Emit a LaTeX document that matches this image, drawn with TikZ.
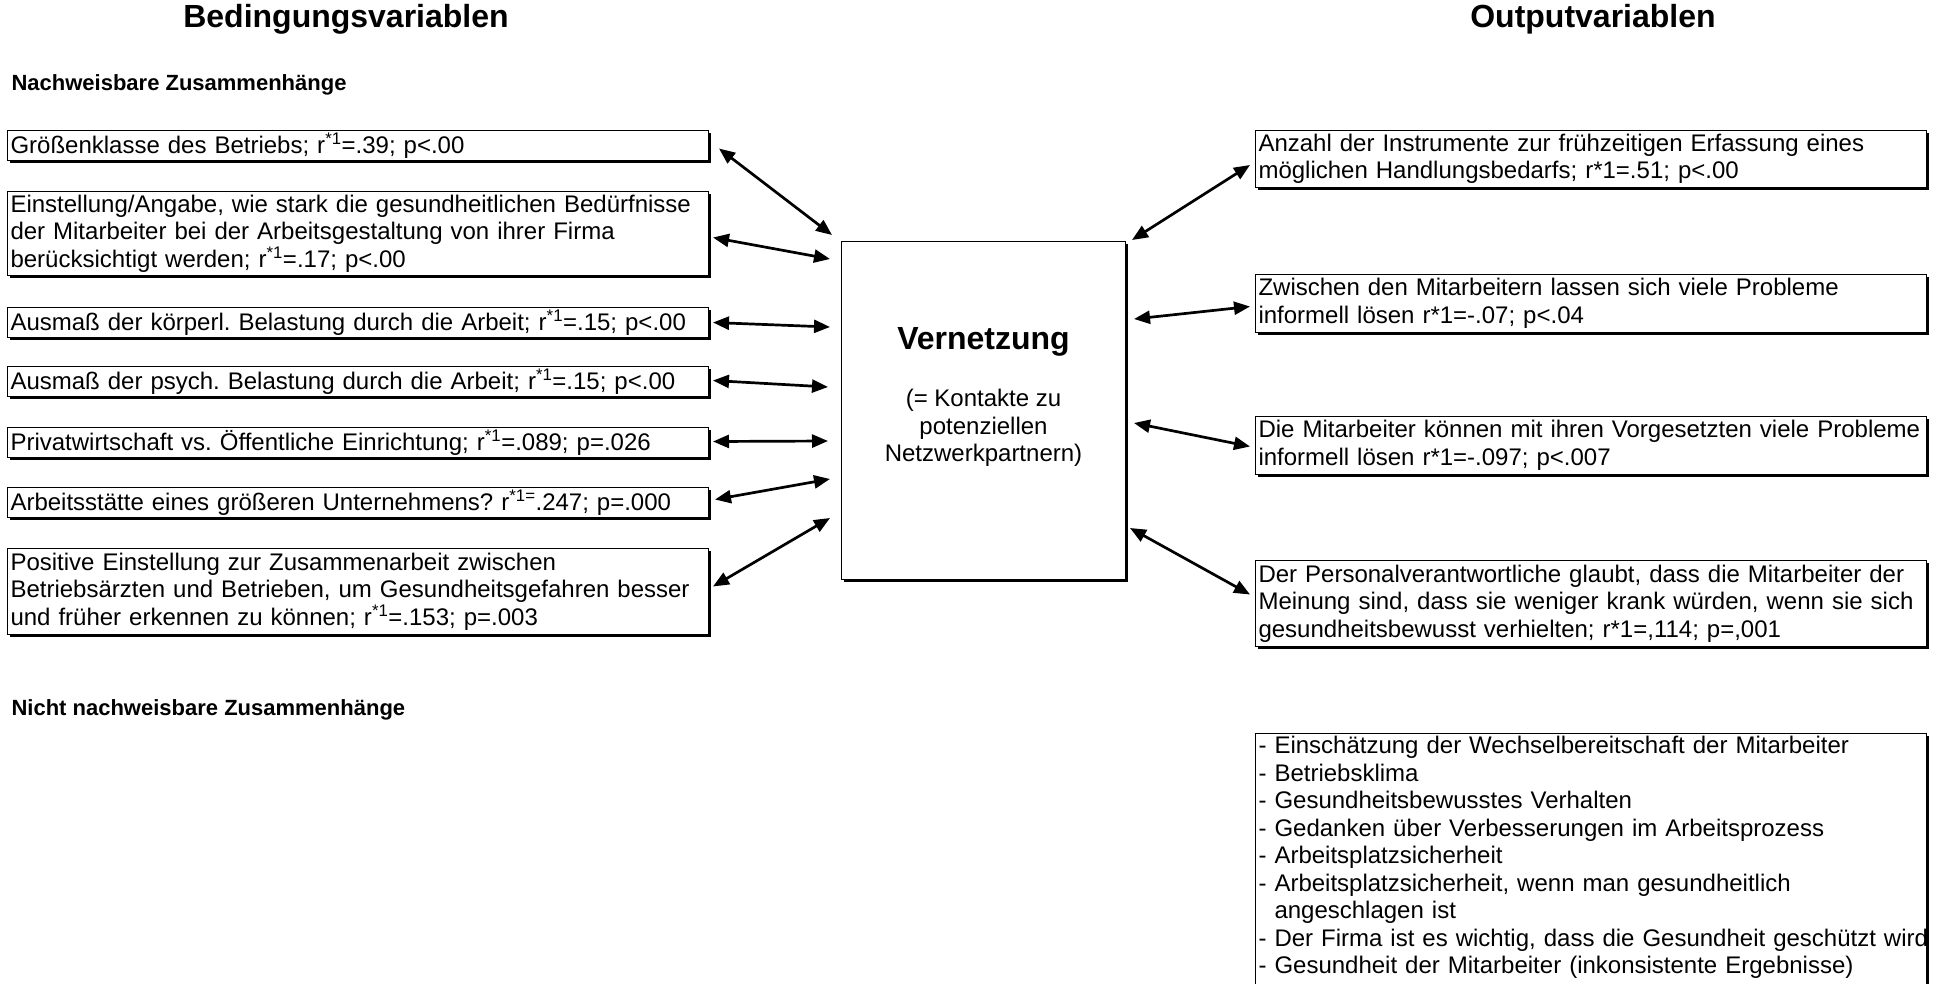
\documentclass[tikz,border=0pt]{standalone}
\usepackage{fontspec}
\setmainfont{Liberation Sans}
\usepackage{tikz}
\usetikzlibrary{arrows.meta,calc,shadows}
\frenchspacing
\newcommand{\rsup}[1]{r\textsuperscript{#1}}

\begin{document}
\begin{tikzpicture}[
  x=1pt, y=-1pt,
  font=\fontsize{24}{27.5}\selectfont,
  box/.style={draw, line width=1pt, fill=white, anchor=north west, align=left, inner xsep=3pt, inner ysep=0pt,
    general shadow={fill=black, shadow xshift=2.5pt, shadow yshift=-2.5pt}},
  lbox/.style={box, text width=695pt},
  rbox/.style={box, text width=665pt},
  head/.style={font=\fontsize{32}{38}\selectfont\bfseries},
  sect/.style={font=\fontsize{22}{26}\selectfont\bfseries, anchor=west},
  link/.style={{Triangle[length=16pt,width=13pt]}-{Triangle[length=16pt,width=13pt]}, line width=2.7pt},
]
\useasboundingbox (0,0) rectangle (1935,983);
% headings
\node[head] (hcond) at (346,19) {Bedingungsvariablen};
\node[head] (hout) at (1593,19) {Outputvariablen};
\node[sect] (hyes) at (8,85) {Nachweisbare Zusammenhänge};
\node[sect] (hno) at (8,710) {Nicht nachweisbare Zusammenhänge};
% conditions (left)
\node[lbox, minimum height=30pt] (b1) at (7,130) {Größenklasse des Betriebs; \rsup{*1}=.39; p<.00};
\node[lbox, minimum height=84pt] (b2) at (7,191) {Einstellung/Angabe, wie stark die gesundheitlichen Bedürfnisse\\der Mitarbeiter bei der Arbeitsgestaltung von ihrer Firma\\berücksichtigt werden; \rsup{*1}=.17; p<.00};
\node[lbox, minimum height=30pt] (b3) at (7,307) {Ausmaß der körperl. Belastung durch die Arbeit; \rsup{*1}=.15; p<.00};
\node[lbox, minimum height=30pt] (b4) at (7,366) {Ausmaß der psych. Belastung durch die Arbeit; \rsup{*1}=.15; p<.00};
\node[lbox, minimum height=30pt] (b5) at (7,427) {Privatwirtschaft vs. Öffentliche Einrichtung; \rsup{*1}=.089; p=.026};
\node[lbox, minimum height=30pt] (b6) at (7,487) {Arbeitsstätte eines größeren Unternehmens? \rsup{*1=}.247; p=.000};
\node[lbox, minimum height=86pt] (b7) at (7,548) {Positive Einstellung zur Zusammenarbeit zwischen\\Betriebsärzten und Betrieben, um Gesundheitsgefahren besser\\und früher erkennen zu können; \rsup{*1}=.153; p=.003};
% central variable
\node[box, minimum width=284pt, minimum height=338pt] (vern) at (841,241) {};
\node[font=\fontsize{32}{38}\selectfont\bfseries] (verntitle) at ($(vern.north)+(0,101)$) {Vernetzung};
\node[align=center] (vernsub) at ($(vern.north)+(0,187)$) {(= Kontakte zu\\potenziellen\\Netzwerkpartnern)};
% outputs (right)
\node[rbox, minimum height=57pt] (r1) at (1255,130) {Anzahl der Instrumente zur frühzeitigen Erfassung eines\\möglichen Handlungsbedarfs; r*1=.51; p<.00};
\node[rbox, minimum height=58pt] (r2) at (1255,274) {Zwischen den Mitarbeitern lassen sich viele Probleme\\informell lösen r*1=-.07; p<.04};
\node[rbox, minimum height=58pt] (r3) at (1255,416) {Die Mitarbeiter können mit ihren Vorgesetzten viele Probleme\\informell lösen r*1=-.097; p<.007};
\node[rbox, minimum height=86pt] (r4) at (1255,560) {Der Personalverantwortliche glaubt, dass die Mitarbeiter der\\Meinung sind, dass sie weniger krank würden, wenn sie sich\\gesundheitsbewusst verhielten; r*1=,114; p=,001};
% not provable: box runs off the lower edge
\node[rbox, inner ysep=3pt, text depth=250pt] (rnone) at (1255,733) {- Einschätzung der Wechselbereitschaft der Mitarbeiter\\- Betriebsklima\\- Gesundheitsbewusstes Verhalten\\- Gedanken über Verbesserungen im Arbeitsprozess\\- Arbeitsplatzsicherheit\\- Arbeitsplatzsicherheit, wenn man gesundheitlich\\\hphantom{-\ }angeschlagen ist\\\mbox{- Der Firma ist es wichtig, dass die Gesundheit geschützt wird}\\- Gesundheit der Mitarbeiter (inkonsistente Ergebnisse)};
% links left
\draw[link] ($(b1.east)+(10,3)$) -- ($(vern.north west)+(-9,-6)$);
\draw[link] ($(b2.east)+(4,4)$) -- ($(vern.north west)+(-11,18)$);
\draw[link] ($(b3.east)+(4,0)$) -- ($(vern.north west)+(-11,86)$);
\draw[link] ($(b4.east)+(4,-1)$) -- ($(vern.north west)+(-13,146)$);
\draw[link] ($(b5.east)+(4,-1)$) -- ($(vern.north west)+(-13,200)$);
\draw[link] ($(b6.east)+(6,-3)$) -- ($(vern.north west)+(-11,238)$);
\draw[link] ($(b7.east)+(4,-5)$) -- ($(vern.north west)+(-11,277)$);
% links right
\draw[link] ($(vern.north east)+(6,-1)$) -- ($(r1.west)+(-5,6)$);
\draw[link] ($(vern.north east)+(8,78)$) -- ($(r2.west)+(-5,3)$);
\draw[link] ($(vern.north east)+(8,182)$) -- ($(r3.west)+(-5,1)$);
\draw[link] ($(vern.north east)+(4,287)$) -- ($(r4.west)+(-5,-9)$);
\end{tikzpicture}
\end{document}
